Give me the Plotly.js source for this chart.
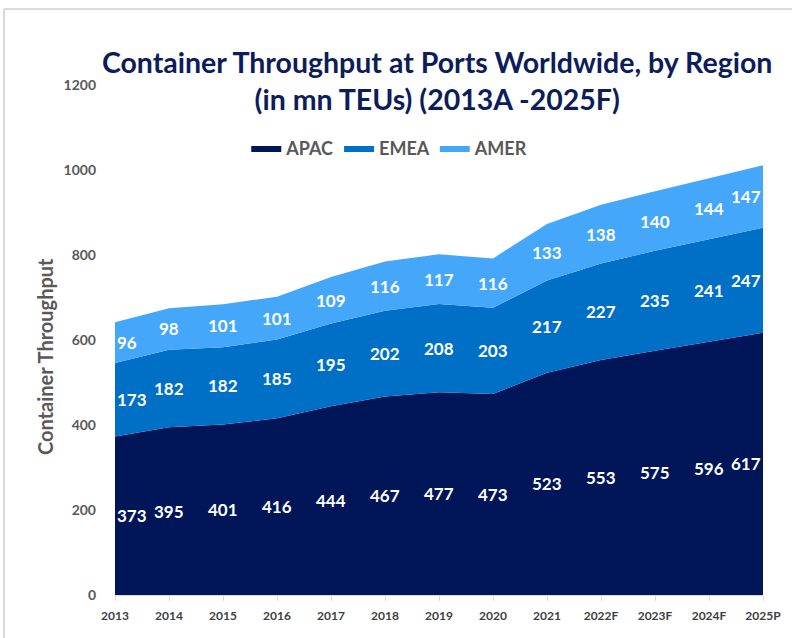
<!DOCTYPE html>
<html>
<head>
<meta charset="utf-8">
<script src="https://cdn.plot.ly/plotly-3.0.1.min.js"></script>
<style>
  html, body { margin: 0; padding: 0; background: #ffffff; }
  #chart { width: 792px; height: 638px; }
</style>
</head>
<body>
<div id="chart"></div>
<script>
const years = ["2013","2014","2015","2016","2017","2018","2019","2020","2021","2022F","2023F","2024F","2025P"];
const apac = [373,395,401,416,444,467,477,473,523,553,575,596,617];
const emea = [173,182,182,185,195,202,208,203,217,227,235,241,247];
const amer = [96,98,101,101,109,116,117,116,133,138,140,144,147];

const seriesNames = ["APAC","EMEA","AMER"];
const seriesVals = [apac, emea, amer];
const seriesColors = ["#001659","#0070C6","#45A7FA"];

const FONT = "Lato, 'Open Sans', sans-serif";

const traces = seriesVals.map((vals, i) => ({
  type: "scatter",
  mode: "lines",
  x: years,
  y: vals,
  name: seriesNames[i],
  stackgroup: "one",
  line: {width: 0, color: seriesColors[i]},
  fillcolor: seriesColors[i],
  hoverinfo: "x+y+name"
}));

// labels at the middle of each band
const annotations = [];
const base = years.map(() => 0);
seriesVals.forEach((vals) => {
  vals.forEach((v, j) => {
    const mid = base[j] + v / 2;
    annotations.push({
      x: j, y: mid, xref: "x", yref: "y",
      text: String(v), showarrow: false,
      xanchor: j === 0 ? "left" : (j === years.length - 1 ? "right" : "center"),
      font: {family: FONT, size: 17, color: "#ffffff", weight: 700}
    });
    base[j] += v;
  });
});

// y-axis title as annotation (placed a bit lower than the plot centre, like the reference)
annotations.push({
  xref: "paper", yref: "paper", x: (45 - 115) / 648, y: (595 - 357) / 510,
  text: "Container Throughput", showarrow: false, textangle: -90,
  xanchor: "center", yanchor: "middle",
  font: {family: FONT, size: 20, color: "#595959", weight: 700}
});

const layout = {
  width: 792, height: 638,
  paper_bgcolor: "#ffffff",
  plot_bgcolor: "rgba(0,0,0,0)",
  margin: {l: 115, r: 29, t: 85, b: 43},
  title: {
    text: "Container Throughput at Ports Worldwide, by Region<br>(in mn TEUs) (2013A -2025F)",
    x: 0.552, xanchor: "center", y: 0.886, yanchor: "middle",
    font: {family: FONT, size: 28.5, color: "#0D1D5C", weight: 700}
  },
  showlegend: true,
  legend: {
    orientation: "h", x: 0.424, xanchor: "center", y: 0.876, yanchor: "middle",
    traceorder: "normal",
    font: {family: FONT, size: 18, color: "#595959", weight: 700},
    itemwidth: 30
  },
  xaxis: {
    type: "category",
    range: [0, years.length - 1],
    showgrid: false, zeroline: false,
    showline: true, linecolor: "#D9D9D9", linewidth: 1,
    ticks: "outside", ticklen: 5, tickcolor: "#D9D9D9",
    ticklabelstandoff: 5,
    tickfont: {family: FONT, size: 12, color: "#404040", weight: 700},
    fixedrange: true
  },
  yaxis: {
    range: [0, 1200], dtick: 200,
    showgrid: false, zeroline: false, showline: false,
    ticks: "", ticklabelstandoff: 18,
    tickfont: {family: FONT, size: 14, color: "#595959", weight: 700},
    fixedrange: true
  },
  annotations: annotations,
  shapes: [
    {type: "line", xref: "paper", yref: "paper",
     x0: (4 - 115) / 648, x1: 1.1, y0: (595 - 9) / 510, y1: (595 - 9) / 510,
     line: {color: "#D9D9D9", width: 2}},
    {type: "line", xref: "paper", yref: "paper",
     x0: (4 - 115) / 648, x1: (4 - 115) / 648, y0: (595 - 9) / 510, y1: -0.2,
     line: {color: "#D9D9D9", width: 2}}
  ]
};

Plotly.newPlot("chart", traces, layout, {displayModeBar: false, staticPlot: true});
</script>
</body>
</html>
